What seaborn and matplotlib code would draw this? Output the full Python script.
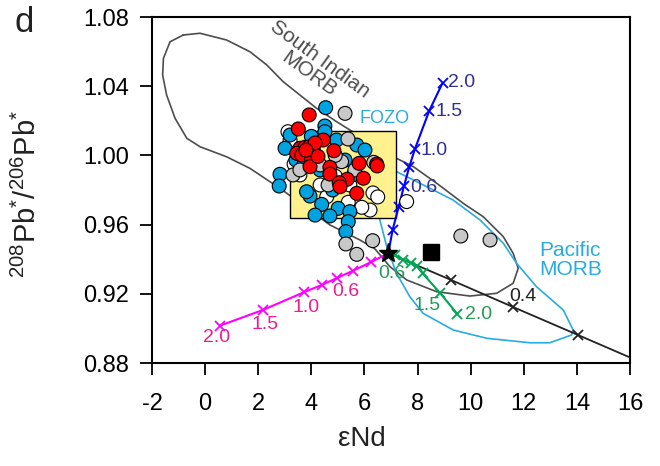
import numpy as np
import pandas as pd
import matplotlib
matplotlib.use("Agg")
import matplotlib.pyplot as plt
from matplotlib.patches import Rectangle
import seaborn as sns

# ---------------- data ----------------
# sample groups (eNd, 208Pb*/206Pb*)
white_x = [3.12, 6.32, 6.21, 7.59, 4.58, 5.39, 4.33, 3.57, 3.20, 5.45, 6.50, 3.35, 4.90, 5.90]
white_y = [1.0137, 0.9783, 0.9684, 0.9733, 0.9761, 0.9729, 0.9829, 0.9887, 1.0089, 0.9829, 0.9760,
           0.9950, 0.9880, 0.9700]

blue_x = [4.54, 4.51, 3.01, 2.82, 2.79, 3.95, 4.39, 5.01, 4.70, 5.45, 5.39, 5.30,
          4.95, 5.71, 4.51, 3.82, 3.42, 4.33, 5.27, 3.20, 6.02, 4.14, 4.80, 3.70, 5.60, 4.00]
blue_y = [1.0276, 1.0170, 1.0041, 0.9891, 0.9823, 0.9765, 0.9717, 0.9694, 0.9650, 0.9675, 0.9617, 0.9559,
          1.0089, 1.0060, 1.0137, 0.9790, 0.9973, 0.9916, 0.9973, 1.0118, 1.0031, 0.9655, 0.9800, 0.9940,
          0.9890, 1.0110]

gray_x = [5.27, 9.63, 10.73, 6.31, 5.30, 5.71, 5.38, 3.31, 5.14, 4.63, 4.33, 5.64, 3.57, 6.35, 4.90]
gray_y = [1.0243, 0.9534, 0.9511, 0.9507, 0.9488, 0.9428, 1.0095, 0.9887, 0.9964, 0.9829, 0.9945,
          0.9916, 0.9916, 0.9960, 1.0000]

red_x = [3.92, 3.51, 3.57, 3.76, 3.92, 4.07, 3.45, 3.64, 4.45, 4.85, 4.01, 3.95,
         4.70, 4.70, 5.80, 6.46, 6.48, 5.35, 5.05, 5.08, 5.96, 5.71, 4.14, 4.25, 3.80]
red_y = [1.0234, 1.0153, 1.0041, 1.0047, 1.0050, 1.0041, 1.0012, 1.0002, 1.0089, 1.0027, 0.9979, 0.9935,
         0.9931, 0.9892, 0.9954, 0.9950, 0.9939, 0.9862, 0.9842, 0.9819, 0.9868, 0.9781, 1.0072, 0.9994,
         1.0030]

# end members
star_x, star_y = [6.9], [0.9435]
square_x, square_y = [8.5], [0.9443]

# FOZO box
fozo_x = [3.2, 7.2]
fozo_y = [0.964, 1.014]

# mixing curves (first point = star)
blue_curve_x = [6.9, 7.06, 7.29, 7.49, 7.69, 7.90, 8.44, 8.945]
blue_curve_y = [0.9435, 0.9569, 0.9703, 0.9823, 0.9935, 1.0037, 1.0258, 1.0420]
mag_curve_x = [6.9, 6.23, 5.58, 4.95, 4.39, 3.72, 2.17, 0.56]
mag_curve_y = [0.9435, 0.9382, 0.9334, 0.9290, 0.9251, 0.9209, 0.9106, 0.9016]
green_curve_x = [6.9, 7.15, 7.46, 7.74, 7.97, 8.19, 8.84, 9.50]
green_curve_y = [0.9435, 0.9424, 0.9395, 0.9380, 0.9361, 0.9318, 0.9206, 0.9083]
black_line_x = [6.9, 9.26, 11.59, 14.04, 16.0]
black_line_y = [0.9435, 0.9280, 0.9124, 0.8962, 0.8832]

# curve labels
blue_lab = ["2.0", "1.5", "1.0", "0.6"]
blue_lab_x = [9.65, 9.17, 8.64, 8.22]
blue_lab_y = [1.0420, 1.0253, 1.0027, 0.9817]
mag_lab = ["2.0", "1.5", "1.0", "0.6"]
mag_lab_x = [0.44, 2.25, 3.82, 5.29]
mag_lab_y = [0.8950, 0.9025, 0.9120, 0.9216]
green_lab = ["0.6", "1.5", "2.0"]
green_lab_x = [7.03, 8.34, 10.29]
green_lab_y = [0.9318, 0.9135, 0.9078]
black_lab = ["0.4"]
black_lab_x = [11.98]
black_lab_y = [0.9187]

# South Indian MORB field outline
sim_x = [-0.82, -0.19, 0.81, 1.69, 2.32, 2.94, 3.57, 4.20, 4.95, 5.45, 7.21, 7.84, 8.72, 9.72,
         10.47, 11.23, 11.60, 11.79, 11.60, 10.98, 9.97, 8.72, 7.59, 6.96, 6.40, 5.83, 4.70,
         2.82, 2.44, 1.69, 0.81, -0.19, -0.69, -1.13, -1.45, -1.60, -1.57, -1.32, -0.82]
sim_y = [1.0696, 1.0706, 1.0667, 1.0599, 1.0523, 1.0426, 1.0349, 1.0272, 1.0195, 1.0147, 0.9983,
         0.9935, 0.9839, 0.9723, 0.9646, 0.9530, 0.9434, 0.9347, 0.9261, 0.9203, 0.9187, 0.9212,
         0.9280, 0.9357, 0.9459, 0.9511, 0.9598, 0.9810, 0.9848, 0.9925, 0.9992, 1.0050, 1.0099,
         1.0214, 1.0349, 1.0465, 1.0561, 1.0657, 1.0696]

# Pacific MORB field outline
pac_x = [7.21, 8.09, 9.34, 10.35, 11.23, 11.73, 12.48, 13.49, 13.86, 13.80, 12.98, 12.23,
         10.60, 9.34, 8.21, 7.71, 7.21, 6.84, 6.58, 6.40, 6.77, 7.21]
pac_y = [0.9906, 0.9839, 0.9742, 0.9627, 0.9492, 0.9376, 0.9241, 0.9106, 0.8990, 0.8962,
         0.8917, 0.8917, 0.8943, 0.8991, 0.9087, 0.9183, 0.9318, 0.9472, 0.9627, 0.9771,
         0.9869, 0.9906]

x_ticks = [-2, 0, 2, 4, 6, 8, 10, 12, 14, 16]
y_ticks = [0.88, 0.92, 0.96, 1.00, 1.04, 1.08]

# ---------------- style ----------------
sns.set_theme(style="ticks")
plt.rcParams["font.family"] = ["Liberation Sans", "DejaVu Sans"]
plt.rcParams["mathtext.fontset"] = "custom"
plt.rcParams["mathtext.rm"] = "Liberation Sans"
plt.rcParams["mathtext.it"] = "Liberation Sans:italic"
plt.rcParams["mathtext.bf"] = "Liberation Sans:bold"

fig = plt.figure(figsize=(6.6, 4.66), dpi=100)
ax = fig.add_axes([152 / 660, 1 - 363 / 466, 478 / 660, 346 / 466])

GRAY_LINE = "#4D4D4D"
CYAN = "#29ABE2"

# field outlines
sns.lineplot(x=sim_x, y=sim_y, sort=False, estimator=None, color=GRAY_LINE, lw=1.2, ax=ax, zorder=2)
sns.lineplot(x=pac_x, y=pac_y, sort=False, estimator=None, color=CYAN, lw=1.2, ax=ax, zorder=2)

# FOZO box
ax.add_patch(Rectangle((fozo_x[0], fozo_y[0]), fozo_x[1] - fozo_x[0], fozo_y[1] - fozo_y[0],
                       facecolor="#FFF28E", edgecolor="black", lw=1.0, zorder=3))


# mixing lines
def mix_line(xs, ys, color, every, lw=1.5):
    sns.lineplot(x=xs, y=ys, sort=False, estimator=None, color=color, lw=lw,
                 marker="x", markersize=6.5, markeredgewidth=1.3, markeredgecolor=color,
                 markevery=every, ax=ax, zorder=4)


mix_line(black_line_x, black_line_y, "#222222", [1, 2, 3], lw=1.3)
mix_line(mag_curve_x, mag_curve_y, "#FF00FF", slice(1, None))
mix_line(green_curve_x, green_curve_y, "#00A651", slice(1, None))
mix_line(blue_curve_x, blue_curve_y, "#0000FF", slice(1, None))

# samples
df = pd.DataFrame({
    "eNd": white_x + blue_x + gray_x + red_x,
    "pb": white_y + blue_y + gray_y + red_y,
    "group": ["white"] * len(white_x) + ["blue"] * len(blue_x) + ["gray"] * len(gray_x) + ["red"] * len(red_x),
})
pal = {"white": "#FFFFFF", "blue": "#00A2E0", "gray": "#C8C8C8", "red": "#FF0000"}
sns.scatterplot(data=df, x="eNd", y="pb", hue="group", palette=pal, s=100, edgecolor="black",
                linewidth=0.8, legend=False, ax=ax, zorder=5)

# end members
ax.plot(square_x, square_y, marker="s", color="black", markersize=11.5, ls="none", zorder=6)
ax.plot(star_x, star_y, marker="*", color="black", markersize=14, ls="none", zorder=7)

# labels on curves
LAB = 14
for t, x, y in zip(blue_lab, blue_lab_x, blue_lab_y):
    ax.text(x, y, t, color="#2E3192", fontsize=LAB, ha="center", va="center", zorder=8)
for t, x, y in zip(mag_lab, mag_lab_x, mag_lab_y):
    ax.text(x, y, t, color="#EC1C8C", fontsize=LAB, ha="center", va="center", zorder=8)
for t, x, y in zip(green_lab, green_lab_x, green_lab_y):
    ax.text(x, y, t, color="#239B56", fontsize=LAB, ha="center", va="center", zorder=8)
for t, x, y in zip(black_lab, black_lab_x, black_lab_y):
    ax.text(x, y, t, color="#222222", fontsize=LAB, ha="center", va="center", zorder=8)

ax.text(4.12, 1.0514, "South Indian\nMORB", color=GRAY_LINE, fontsize=15, rotation=-36,
        ha="center", va="center", multialignment="center", linespacing=1.0, zorder=8)
ax.text(6.77, 1.0214, "FOZO", color=CYAN, fontsize=13, ha="center", va="center", zorder=8)
ax.text(13.78, 0.9395, "Pacific\nMORB", color=CYAN, fontsize=15, ha="center", va="center",
        multialignment="left", linespacing=1.05, zorder=8)

# axes
ax.set_xlim(-2, 16)
ax.set_ylim(0.88, 1.08)
ax.set_xticks(x_ticks)
ax.set_xticklabels([str(v) for v in x_ticks])
ax.set_yticks(y_ticks)
ax.set_yticklabels([f"{v:.2f}" for v in y_ticks])
ax.tick_params(axis="both", direction="out", length=8.5, width=1.3, color="black",
               labelsize=17, labelcolor="black")
ax.tick_params(axis="x", pad=13)
ax.tick_params(axis="y", pad=8)
for sp in ax.spines.values():
    sp.set_visible(True)
    sp.set_linewidth(1.5)
    sp.set_color("black")

ax.set_xlabel("εNd", fontsize=20, color="#222222")
ax.xaxis.set_label_coords((362 - 152) / 478, -(439 - 363) / 346)
ax.set_ylabel(r"$^{208}$Pb$^{*}$/$^{206}$Pb$^{*}$", fontsize=21, color="#222222")
ax.yaxis.set_label_coords(-(152 - 27) / 478, 0.49)
ax.xaxis.label.set_va("center")
ax.yaxis.label.set_va("center")

fig.text(15 / 660, 1 - 6 / 466, "d", fontsize=25, va="top", ha="left", color="#222222")

fig.savefig("out.png", dpi=100)
